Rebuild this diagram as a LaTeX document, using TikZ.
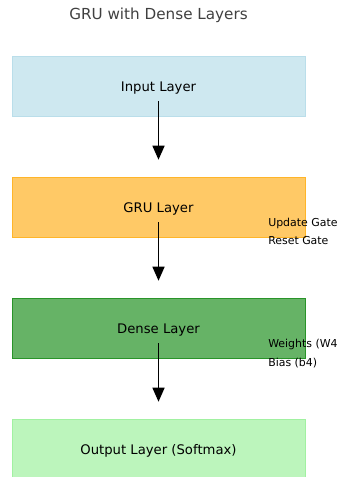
\documentclass[tikz,border=0pt]{standalone}
\usepackage{fontspec}
\setmainfont{DejaVu Sans}
\usetikzlibrary{positioning,arrows.meta}

\definecolor{inputfill}{RGB}{206,232,240}
\definecolor{inputedge}{RGB}{186,222,234}
\definecolor{grufill}{RGB}{255,201,102}
\definecolor{gruedge}{RGB}{255,181,41}
\definecolor{densefill}{RGB}{102,179,102}
\definecolor{denseedge}{RGB}{41,148,41}
\definecolor{outfill}{RGB}{188,245,188}
\definecolor{outedge}{RGB}{161,241,161}

\begin{document}
\begin{tikzpicture}[
  x=0.75pt, y=-0.75pt,
  node distance=44.6pt,
  layer/.style={draw, line width=0.75pt, minimum width=219.75pt, minimum height=45.4pt, inner sep=0pt, text depth=0pt, font=\fontsize{9.9}{12}\selectfont},
  note/.style={anchor=base west, inner sep=0pt, font=\fontsize{8.2}{10}\selectfont},
  arrow/.style={-{Triangle[length=10.5pt,width=9pt]}, line width=1.1pt}
]
\useasboundingbox (0,0) rectangle (338,477);
\clip (0,0) rectangle (338,477);
% title
\node[anchor=base, text=black!75, font=\fontsize{11.4}{14}\selectfont] (title) at (158.5,20) {GRU with Dense Layers};
% layers
\node[layer, fill=inputfill, draw=inputedge] (inp) at (158.5,86.5) {Input Layer};
\node[layer, fill=grufill, draw=gruedge, below=of inp] (gru) {GRU Layer};
\node[layer, fill=densefill, draw=denseedge, below=of gru] (dense) {Dense Layer};
\node[layer, fill=outfill, draw=outedge, below=of dense] (out) {Output Layer (Softmax)};
% side notes
\node[note] (upd) at (268,226.7) {Update Gate};
\node[note] (rst) at (268,244) {Reset Gate};
\node[note] (wts) at (268,347.3) {Weights (W4};
\node[note] (bias) at (268,366) {Bias (b4)};
% arrows
\draw[arrow] ([yshift=-10.9pt]inp.center) -- ([yshift=12.75pt]gru.north);
\draw[arrow] ([yshift=-10.9pt]gru.center) -- ([yshift=12.75pt]dense.north);
\draw[arrow] ([yshift=-10.9pt]dense.center) -- ([yshift=12.75pt]out.north);
\end{tikzpicture}
\end{document}
